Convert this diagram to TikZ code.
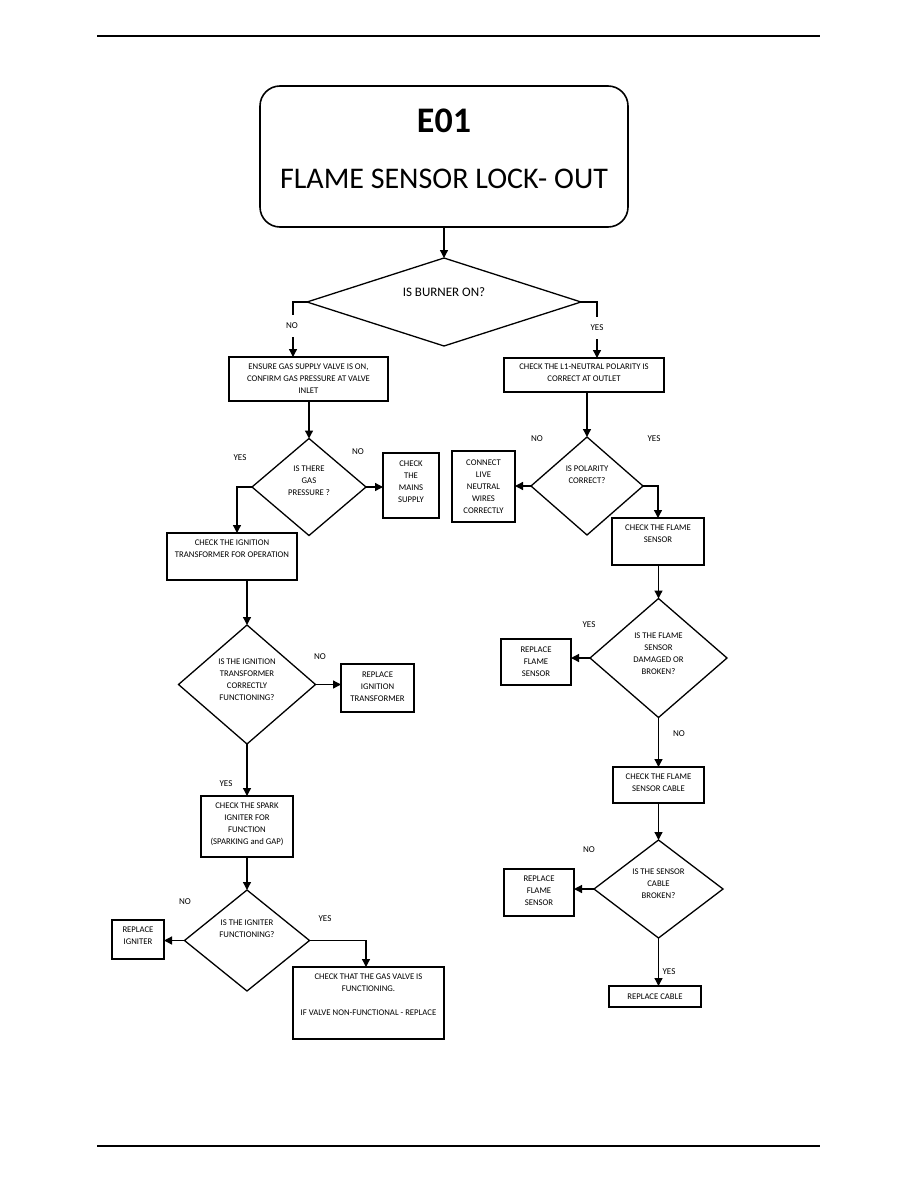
\documentclass[tikz,border=0pt]{standalone}
\usepackage{fontspec}
\setmainfont{Carlito}
\usetikzlibrary{arrows.meta,shapes.geometric,calc}
\begin{document}
\begin{tikzpicture}[x=1pt,y=-1pt,
  every node/.style={inner sep=0pt, outer sep=0pt},
  box/.style={draw, line width=1.3pt, rectangle},
  dmd/.style={draw, line width=1.3pt, diamond},
  txt/.style={align=center, font=\fontsize{8.7}{12}\selectfont},
  lbl/.style={font=\fontsize{9}{11}\selectfont},
  lblw/.style={lbl, fill=white, inner xsep=2pt, inner ysep=8pt},
  conn/.style={line width=1.3pt, -{Triangle[length=8pt,width=8pt]}},
  rule/.style={line width=1.2pt}
]
\useasboundingbox (0,0) rectangle (918,1188);
% header / footer rules
\coordinate (hl) at (97,36); \coordinate (hr) at (820,36);
\coordinate (fl) at (97,1146); \coordinate (fr) at (820,1146);
\draw[rule] (hl) -- (hr);
\draw[rule] (fl) -- (fr);

% title
\node[draw, line width=1.6pt, rounded corners=20pt, minimum width=368pt, minimum height=141pt] (title) at (444,156.5) {};
\node[font=\fontsize{36}{40}\selectfont\bfseries] (e01) at (444,121) {E01};
\node[font=\fontsize{30}{34}\selectfont] (ttl) at (444,179) {FLAME SENSOR LOCK- OUT};

% diamond 1
\node[dmd, minimum width=274pt, minimum height=88pt] (d1) at (444,302) {};
\node[font=\fontsize{13}{15}\selectfont] (d1t) at (444,292) {IS BURNER ON?};

% boxes level 2
\node[box, minimum width=159pt, minimum height=44pt] (b1) at (308.5,379) {};
\node[txt] (b1t) at (308.5,379) {ENSURE GAS SUPPLY VALVE IS ON,\\CONFIRM GAS PRESSURE AT VALVE\\INLET};
\node[box, minimum width=160pt, minimum height=34pt] (b2) at (584,375) {};
\node[txt] (b2t) at (584,373) {CHECK THE L1-NEUTRAL POLARITY IS\\CORRECT AT OUTLET};

% left: gas pressure
\node[dmd, minimum width=114pt, minimum height=97pt] (d2) at (309,487) {};
\node[txt] (d2t) at (309,481) {IS THERE\\GAS\\PRESSURE ?};
\node[box, minimum width=56pt, minimum height=65pt] (b3) at (411,485.5) {};
\node[txt] (b3t) at (411,482) {CHECK\\THE\\MAINS\\SUPPLY};
\node[box, minimum width=130pt, minimum height=47pt] (b4) at (232,556.5) {};
\node[txt] (b4t) at (232,549) {CHECK THE IGNITION\\TRANSFORMER FOR OPERATION};

% right: polarity
\node[dmd, minimum width=112pt, minimum height=98pt] (d3) at (587,486) {};
\node[txt] (d3t) at (587,475) {IS POLARITY\\CORRECT?};
\node[box, minimum width=63pt, minimum height=71pt] (b5) at (483.5,486.5) {};
\node[txt] (b5t) at (483.5,487) {CONNECT\\LIVE\\NEUTRAL\\WIRES\\CORRECTLY};
\node[box, minimum width=92pt, minimum height=47pt] (b6) at (658,541.5) {};
\node[txt] (b6t) at (658,534) {CHECK THE FLAME\\SENSOR};

% right: flame sensor damaged
\node[dmd, minimum width=137pt, minimum height=119pt] (d4) at (658.5,658) {};
\node[txt] (d4t) at (658.5,654) {IS THE FLAME\\SENSOR\\DAMAGED OR\\BROKEN?};
\node[box, minimum width=70pt, minimum height=46pt] (b7) at (536,662) {};
\node[txt] (b7t) at (536,662) {REPLACE\\FLAME\\SENSOR};
\node[box, minimum width=91pt, minimum height=36pt] (b8) at (658.5,785) {};
\node[txt] (b8t) at (658.5,783) {CHECK THE FLAME\\SENSOR CABLE};

% right: sensor cable
\node[dmd, minimum width=129pt, minimum height=98pt] (d5) at (658.5,889) {};
\node[txt] (d5t) at (658.5,884) {IS THE SENSOR\\CABLE\\BROKEN?};
\node[box, minimum width=70pt, minimum height=47pt] (b9) at (539,892.5) {};
\node[txt] (b9t) at (539,891) {REPLACE\\FLAME\\SENSOR};
\node[box, minimum width=92pt, minimum height=21pt] (b10) at (655,996.5) {};
\node[txt] (b10t) at (655,996.5) {REPLACE CABLE};

% left: ignition transformer
\node[dmd, minimum width=137pt, minimum height=119pt] (d6) at (247,684.5) {};
\node[txt] (d6t) at (247,680) {IS THE IGNITION\\TRANSFORMER\\CORRECTLY\\FUNCTIONING?};
\node[box, minimum width=73pt, minimum height=48pt] (b11) at (377.5,688) {};
\node[txt] (b11t) at (377.5,687) {REPLACE\\IGNITION\\TRANSFORMER};
\node[box, minimum width=92pt, minimum height=61pt] (b12) at (247,826.5) {};
\node[txt] (b12t) at (247,824) {CHECK THE SPARK\\IGNITER FOR\\FUNCTION\\(SPARKING and GAP)};

% left: igniter
\node[dmd, minimum width=125pt, minimum height=101pt] (d7) at (247,940.5) {};
\node[txt] (d7t) at (247,929) {IS THE IGNITER\\FUNCTIONING?};
\node[box, minimum width=52pt, minimum height=39pt] (b13) at (138,939.5) {};
\node[txt] (b13t) at (138,936) {REPLACE\\IGNITER};
\node[box, minimum width=151pt, minimum height=72pt] (b14) at (368.5,1003) {};
\node[txt] (b14t) at (368.5,995) {CHECK THAT THE GAS VALVE IS\\FUNCTIONING.\\[12pt]IF VALVE NON-FUNCTIONAL - REPLACE};

% bend points
\coordinate (k1) at (293,302);
\coordinate (k2) at (597,302);
\coordinate (k3) at (237,487);
\coordinate (y7) at (366,940.5);

% connectors
\draw[conn] (title.south -| d1.north) -- (d1.north);
\draw[conn] (d1.west) -- (k1) -- (k1 |- b1.north);
\draw[conn] (d1.east) -- (k2) -- (k2 |- b2.north);
\draw[conn] (b1.south -| d2.north) -- (d2.north);
\draw[conn] (d2.east) -- (b3.west |- d2.east);
\draw[conn] (d2.west) -- (k3) -- (k3 |- b4.north);
\draw[conn] (b2.south -| d3.north) -- (d3.north);
\draw[conn] (d3.west) -- (b5.east |- d3.west);
\draw[conn] (d3.east) -- (d3.east -| b6.north) -- (b6.north);
\draw[conn] (b6.south -| d4.north) -- (d4.north);
\draw[conn] (d4.west) -- (b7.east |- d4.west);
\draw[conn] (d4.south) -- (d4.south |- b8.north);
\draw[conn] (b8.south -| d5.north) -- (d5.north);
\draw[conn] (d5.west) -- (b9.east |- d5.west);
\draw[conn] (d5.south) -- (d5.south |- b10.north);
\draw[conn] (b4.south -| d6.north) -- (d6.north);
\draw[conn] (d6.east) -- (b11.west |- d6.east);
\draw[conn] (d6.south) -- (b12.north);
\draw[conn] (b12.south) -- (d7.north);
\draw[conn] (d7.west) -- (b13.east |- d7.west);
\draw[conn] (d7.east) -- (y7) -- (y7 |- b14.north);

% labels
\node[lblw] (l1) at (292,326) {NO};
\node[lblw] (l2) at (597,328) {YES};
\node[lbl] (l3) at (358,452) {NO};
\node[lbl] (l4) at (240,458) {YES};
\node[lbl] (l5) at (537,439) {NO};
\node[lbl] (l6) at (654,439) {YES};
\node[lbl] (l7) at (589,625) {YES};
\node[lbl] (l8) at (679,734) {NO};
\node[lbl] (l9) at (589,850) {NO};
\node[lbl] (l10) at (669,972) {YES};
\node[lbl] (l11) at (320,657) {NO};
\node[lbl] (l12) at (226,784) {YES};
\node[lbl] (l13) at (185,902) {NO};
\node[lbl] (l14) at (325,919) {YES};
\end{tikzpicture}
\end{document}
